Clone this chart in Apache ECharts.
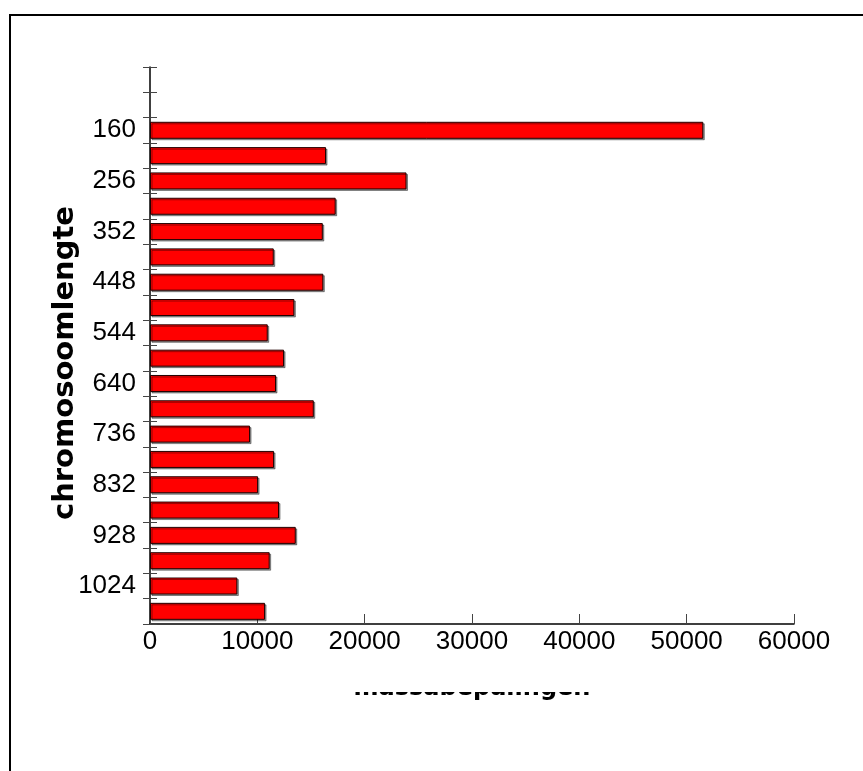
<!DOCTYPE html>
<html>
<head>
<meta charset="utf-8">
<script src="https://cdn.jsdelivr.net/npm/echarts@6/dist/echarts.min.js"></script>
<style>html,body{margin:0;padding:0;background:#fff;}#c{width:863px;height:771px;}</style>
</head>
<body>
<div id="c"></div>
<script>
const categories = ['64','112','160','208','256','304','352','400','448','496','544','592','640','688','736','784','832','880','928','976','1024','1072'];
const values = [null, null, 51550, 16400, 23900, 17300, 16100, 11530, 16150, 13450, 10970, 12490, 11740, 15260, 9320, 11560, 10070, 12020, 13580, 11150, 8140, 10720];
const yTickLabels = ['160','256','352','448','544','640','736','832','928','1024'];
const xTicks = [0, 10000, 20000, 30000, 40000, 50000, 60000];
const xTitle = 'massabepalingen';
const yTitle = 'chromosoomlengte';

const chart = echarts.init(document.getElementById('c'), null, {renderer: 'canvas'});
const labelFont = {fontFamily: 'Liberation Sans', fontSize: 26, color: '#000'};
chart.setOption({
  animation: false,
  backgroundColor: '#fff',
  grid: {left: 150, top: 67, right: 69, bottom: 147, containLabel: false},
  xAxis: {
    type: 'value', min: xTicks[0], max: xTicks[xTicks.length - 1], interval: 10000,
    splitLine: {show: false},
    axisLine: {show: true, lineStyle: {color: '#000', width: 1.5}},
    axisTick: {show: true, inside: true, length: 10, lineStyle: {color: '#444'}},
    axisLabel: Object.assign({margin: 5, formatter: v => String(v)}, labelFont)
  },
  yAxis: [{
    type: 'category', data: categories, inverse: true,
    axisLine: {show: true, lineStyle: {color: '#000', width: 1.5}},
    axisTick: {show: true, length: 7, interval: 0, lineStyle: {color: '#444'}},
    axisLabel: Object.assign({interval: 0, margin: 14,
      formatter: v => yTickLabels.includes(v) ? v : ''}, labelFont)
  }, {
    type: 'category', data: categories, inverse: true, position: 'left',
    axisLine: {show: false},
    axisTick: {show: true, inside: true, length: 7, interval: 0, lineStyle: {color: '#444'}},
    axisLabel: {show: false}
  }],
  series: [{
    type: 'bar', data: values, barWidth: 17, yAxisIndex: 0,
    itemStyle: {color: '#ff0000', borderColor: '#200000', borderWidth: 1,
      shadowColor: 'rgba(0,0,0,0.4)', shadowOffsetX: 1.5, shadowOffsetY: 1.5, shadowBlur: 0}
  }],
  graphic: [
    {type: 'rect', shape: {x: 10, y: 15, width: 1000, height: 1000}, style: {fill: 'none', stroke: '#000', lineWidth: 2}, z: 100},
    {type: 'text', x: 472, y: 701, z: 10,
      style: {text: xTitle, font: 'bold 24px "DejaVu Sans"', fill: '#000', textAlign: 'center', textVerticalAlign: 'bottom'}},
    {type: 'rect', shape: {x: 330, y: 660, width: 290, height: 32}, style: {fill: '#fff'}, z: 20},
    {type: 'text', x: 65, y: 363, rotation: Math.PI / 2, z: 10,
      style: {text: yTitle, font: 'bold 29px "DejaVu Sans"', fill: '#000', textAlign: 'center', textVerticalAlign: 'middle'}}
  ]
});
</script>
</body>
</html>
